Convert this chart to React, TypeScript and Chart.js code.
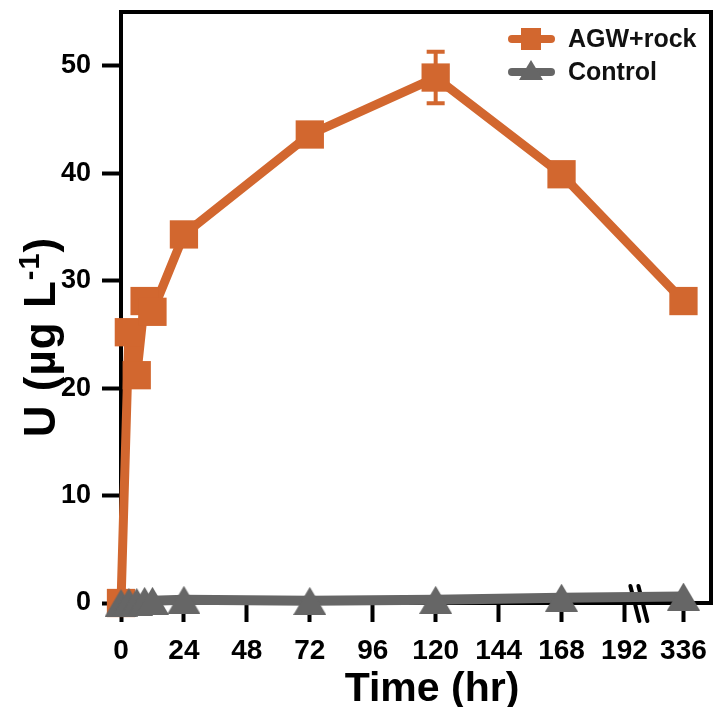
import React, { useEffect, useRef } from 'react';
import { Chart, registerables } from 'chart.js';

Chart.register(...registerables);

// ---- data ----
const times = [0, 3, 6, 9, 12, 24, 72, 120, 168, 336];
const agwRock = [0, 25.2, 21.2, 28.1, 27.1, 34.3, 43.6, 48.9, 39.9, 28.1];
const agwRockErr = [0, 0.6, 0.5, 0.7, 0.6, 0.7, 0.6, 2.4, 0.7, 0.5];
const control = [0, 0.1, 0.1, 0.2, 0.2, 0.3, 0.2, 0.3, 0.5, 0.6];
const xTickValues = [0, 24, 48, 72, 96, 120, 144, 168, 192, 336];
const yTickValues = [0, 10, 20, 30, 40, 50];
const seriesNames = ['AGW+rock', 'Control'];

// axis break: hours after 192 are compressed
const BREAK_AT = 192;
const BREAK_SCALE = 22.5 / 144;
const toAxis = (t: number) => (t <= BREAK_AT ? t : BREAK_AT + (t - BREAK_AT) * BREAK_SCALE);

const ORANGE = '#D2672F';
const GREY = '#666666';
const FONT = "'Liberation Sans', Arial, sans-serif";

function makeTriangle(w: number, h: number, color: string) {
  const c = document.createElement('canvas');
  c.width = w;
  c.height = h;
  const g = c.getContext('2d')!;
  g.fillStyle = color;
  g.beginPath();
  g.moveTo(w / 2, 0);
  g.lineTo(w, h);
  g.lineTo(0, h);
  g.closePath();
  g.fill();
  return c;
}

export default function App() {
  const ref = useRef<HTMLCanvasElement>(null);

  useEffect(() => {
    const tri = makeTriangle(33, 28, GREY);
    const triSmall = makeTriangle(24, 20, GREY);

    const framePlugin = {
      id: 'frameAndErr',
      beforeDatasetsDraw(chart: any) {
        const { ctx, chartArea: a, scales } = chart;
        ctx.save();
        ctx.strokeStyle = '#000';
        ctx.lineWidth = 4;
        ctx.strokeRect(a.left, a.top, a.right - a.left, a.bottom - a.top);
        // axis break marks
        const xb = scales.x.getPixelForValue(197.5);
        ctx.lineWidth = 4;
        ctx.lineCap = 'round';
        for (const dx of [-4, 4]) {
          ctx.beginPath();
          ctx.moveTo(xb + dx - 4.5, a.bottom - 17);
          ctx.lineTo(xb + dx + 4.5, a.bottom + 18);
          ctx.stroke();
        }
        // error bars
        ctx.strokeStyle = ORANGE;
        ctx.lineWidth = 4;
        ctx.lineCap = 'butt';
        times.forEach((t, i) => {
          const e = agwRockErr[i];
          if (!e) return;
          const x = scales.x.getPixelForValue(toAxis(t));
          const y1 = scales.y.getPixelForValue(agwRock[i] + e);
          const y2 = scales.y.getPixelForValue(agwRock[i] - e);
          ctx.beginPath();
          ctx.moveTo(x, y1);
          ctx.lineTo(x, y2);
          ctx.moveTo(x - 9, y1);
          ctx.lineTo(x + 9, y1);
          ctx.moveTo(x - 9, y2);
          ctx.lineTo(x + 9, y2);
          ctx.stroke();
        });
        ctx.restore();
      },
      afterDraw(chart: any) {
        const { ctx, chartArea: a } = chart;
        ctx.save();
        // legend
        const items = [
          { name: seriesNames[0], color: ORANGE, y: a.top + 27 },
          { name: seriesNames[1], color: GREY, y: a.top + 60 },
        ];
        items.forEach((it, i) => {
          const x0 = a.right - 203;
          ctx.strokeStyle = it.color;
          ctx.lineWidth = 8;
          ctx.lineCap = 'round';
          ctx.beginPath();
          ctx.moveTo(x0 + 4, it.y);
          ctx.lineTo(x0 + 43, it.y);
          ctx.stroke();
          const cx = x0 + 23;
          if (i === 0) {
            ctx.fillStyle = it.color;
            ctx.fillRect(cx - 10, it.y - 11, 20, 22);
          } else {
            ctx.drawImage(triSmall, cx - 12, it.y - 12);
          }
          ctx.fillStyle = '#111';
          ctx.font = `bold 25px ${FONT}`;
          ctx.textBaseline = 'middle';
          ctx.textAlign = 'left';
          ctx.fillText(it.name, x0 + 60, it.y + 1);
        });
        // axis titles
        ctx.fillStyle = '#000';
        ctx.font = `bold 41px ${FONT}`;
        ctx.textAlign = 'center';
        ctx.textBaseline = 'alphabetic';
        ctx.fillText('Time (hr)', 432, 701);
        // y title with superscript
        ctx.translate(55, 337);
        ctx.rotate(-Math.PI / 2);
        const main = 'U (µg L';
        const sup = '-1';
        const close = ')';
        (ctx as any).letterSpacing = '1px';
        ctx.font = `bold 44px ${FONT}`;
        const wMain = ctx.measureText(main).width;
        const wClose = ctx.measureText(close).width;
        ctx.font = `bold 29px ${FONT}`;
        const wSup = ctx.measureText(sup).width;
        const total = wMain + wSup + wClose;
        let x = -total / 2;
        ctx.textAlign = 'left';
        ctx.font = `bold 44px ${FONT}`;
        ctx.fillText(main, x, 0);
        x += wMain;
        ctx.font = `bold 29px ${FONT}`;
        ctx.fillText(sup, x, -16);
        x += wSup;
        ctx.font = `bold 44px ${FONT}`;
        ctx.fillText(close, x, 0);
        ctx.restore();
      },
    };

    const zeroPad = (s: any) => {
      s.paddingTop = 0;
      s.paddingBottom = 0;
      s.paddingLeft = 0;
      s.paddingRight = 0;
    };

    const chart = new Chart(ref.current!, {
      type: 'line',
      data: {
        datasets: [
          {
            label: seriesNames[0],
            data: times.map((t, i) => ({ x: toAxis(t), y: agwRock[i] })),
            borderColor: ORANGE,
            backgroundColor: ORANGE,
            borderWidth: 9,
            borderJoinStyle: 'round',
            pointStyle: 'rect',
            pointRadius: 20,
            pointBorderWidth: 0,
            clip: false,
            order: 1,
          },
          {
            label: seriesNames[1],
            data: times.map((t, i) => ({ x: toAxis(t), y: control[i] })),
            borderColor: GREY,
            backgroundColor: GREY,
            borderWidth: 10,
            borderJoinStyle: 'round',
            pointStyle: tri as any,
            pointRadius: 17,
            clip: false,
            order: 0,
          },
        ],
      },
      options: {
        animation: false,
        responsive: true,
        maintainAspectRatio: false,
        layout: { autoPadding: false, padding: { top: 12, right: 3, left: 0, bottom: 0 } },
        plugins: { legend: { display: false }, tooltip: { enabled: false } },
        scales: {
          x: {
            type: 'linear',
            min: 0,
            max: 225,
            afterBuildTicks: (s: any) => {
              s.ticks = xTickValues.map((v) => ({ value: toAxis(v) }));
            },
            afterFit: (s: any) => {
              s.height = 104;
              zeroPad(s);
            },
            ticks: {
              autoSkip: false,
              maxRotation: 0,
              padding: 12,
              color: '#000',
              font: { family: FONT, size: 28, weight: 'bold' },
              callback: (_v: any, i: number) => String(xTickValues[i]),
            },
            grid: {
              drawOnChartArea: false,
              drawTicks: true,
              tickLength: 19,
              tickWidth: 4,
              tickColor: '#000',
            },
            border: { display: false },
          },
          y: {
            type: 'linear',
            min: 0,
            max: 55,
            afterBuildTicks: (s: any) => {
              s.ticks = yTickValues.map((v) => ({ value: v }));
            },
            afterFit: (s: any) => {
              s.width = 121;
              zeroPad(s);
            },
            ticks: {
              padding: 11,
              color: '#000',
              font: { family: FONT, size: 27, weight: 'bold' },
              callback: (v: any) => String(v),
            },
            grid: {
              drawOnChartArea: false,
              drawTicks: true,
              tickLength: 19,
              tickWidth: 4,
              tickColor: '#000',
            },
            border: { display: false },
          },
        },
      },
      plugins: [framePlugin],
    } as any);
    return () => chart.destroy();
  }, []);

  return (
    <div style={{ position: 'absolute', left: 0, top: 0, width: 714, height: 707, background: '#fff' }}>
      <canvas ref={ref} />
    </div>
  );
}
